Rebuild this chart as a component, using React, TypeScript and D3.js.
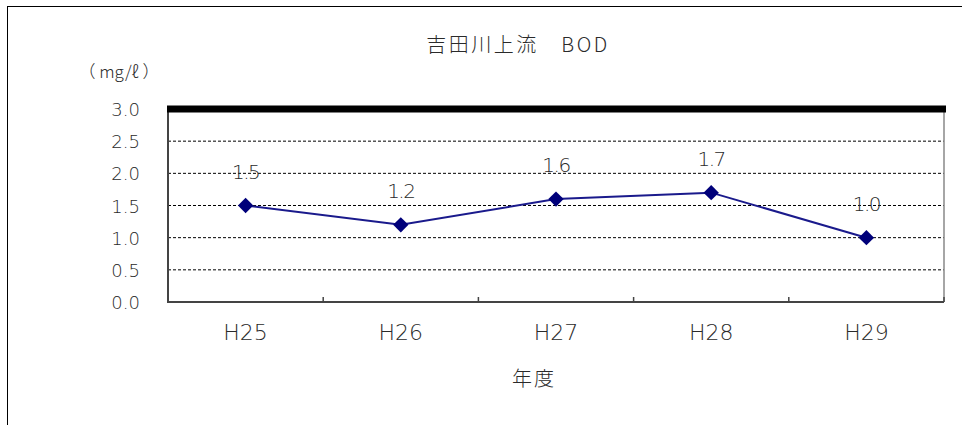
import React from "react";
import * as d3 from "d3";

const categories = ["H25", "H26", "H27", "H28", "H29"];
const values = [1.5, 1.2, 1.6, 1.7, 1.0];
const yTicks = [0, 0.5, 1.0, 1.5, 2.0, 2.5, 3.0];
const title = "吉田川上流　BOD";
const yLabel = "（ mg/ℓ ）";
const xLabel = "年度";

export default function App() {
  const W = 962, H = 425;
  const left = 168, right = 944, top = 109, bottom = 302;
  const x = d3.scaleBand<string>().domain(categories).range([left, right]);
  const y = d3.scaleLinear().domain([0, 3]).range([bottom, top]);
  const cx = (c: string) => (x(c) as number) + x.bandwidth() / 2;
  const line = d3.line<number>().x((_, i) => cx(categories[i])).y((d) => y(d));
  const diamond = d3.symbol().type(d3.symbolDiamond2 || d3.symbolDiamond).size(150)();
  const font = "'Noto Sans CJK JP', 'DejaVu Sans', sans-serif";
  const numFont = "'DejaVu Sans', 'Liberation Sans', sans-serif";
  const boundaries = categories.slice(1).map((c) => x(c) as number);
  const tc = "#2a2a2a";
  return (
    <svg width={W} height={H} style={{ position: "absolute", left: 0, top: 0, background: "#fff" }}>
      <rect x={7.5} y={6.5} width={W + 10} height={H + 10} fill="#fff" stroke="#000" strokeWidth={1} />
      <text x={518} y={52} textAnchor="middle" fontFamily={font} fontSize={20} fontWeight={300} letterSpacing={2.5} fill={tc}>{title}</text>
      <text x={119} y={78} textAnchor="middle" fontFamily={font} fontSize={17} fontWeight={300} fill={tc}>{yLabel}</text>
      {yTicks.filter((t) => t > 0 && t < 3).map((t) => (
        <line key={t} x1={left} x2={right} y1={y(t)} y2={y(t)} stroke="#000" strokeWidth={1} strokeDasharray="3,2" />
      ))}
      <line x1={right} x2={right} y1={top} y2={bottom} stroke="#888" strokeWidth={1.5} />
      <line x1={left} x2={left} y1={top} y2={bottom + 1} stroke="#444" strokeWidth={2} />
      <line x1={left} x2={right} y1={bottom} y2={bottom} stroke="#444" strokeWidth={2} />
      <line x1={left - 1} x2={right + 2} y1={y(3)} y2={y(3)} stroke="#000" strokeWidth={7} />
      {boundaries.map((b, i) => (
        <line key={i} x1={b} x2={b} y1={bottom} y2={bottom - 5} stroke="#444" strokeWidth={1.5} />
      ))}
      <line x1={right} x2={right} y1={bottom} y2={bottom - 5} stroke="#444" strokeWidth={1.5} />
      {yTicks.map((t) => (
        <text key={t} x={140} y={y(t) + 7} textAnchor="end" fontFamily={numFont} fontSize={18} fontWeight={300} fill={tc}>{t.toFixed(1)}</text>
      ))}
      {categories.map((c) => (
        <text key={c} x={cx(c)} y={340} textAnchor="middle" fontFamily={numFont} fontSize={22} fontWeight={300} fill={tc}>{c}</text>
      ))}
      <text x={534} y={386} textAnchor="middle" fontFamily={font} fontSize={20} fontWeight={300} letterSpacing={2} fill={tc}>{xLabel}</text>
      <path d={line(values) || ""} fill="none" stroke="#1a1a8c" strokeWidth={2} />
      {values.map((v, i) => (
        <path key={i} d={diamond || ""} transform={`translate(${cx(categories[i])},${y(v)})`} fill="#00007a" />
      ))}
      {values.map((v, i) => (
        <text key={"l" + i} x={cx(categories[i])} y={y(v) - 27} textAnchor="middle" fontFamily={numFont} fontSize={20} fontWeight={300} letterSpacing={-1.5} fill={tc}>{v.toFixed(1)}</text>
      ))}
    </svg>
  );
}
